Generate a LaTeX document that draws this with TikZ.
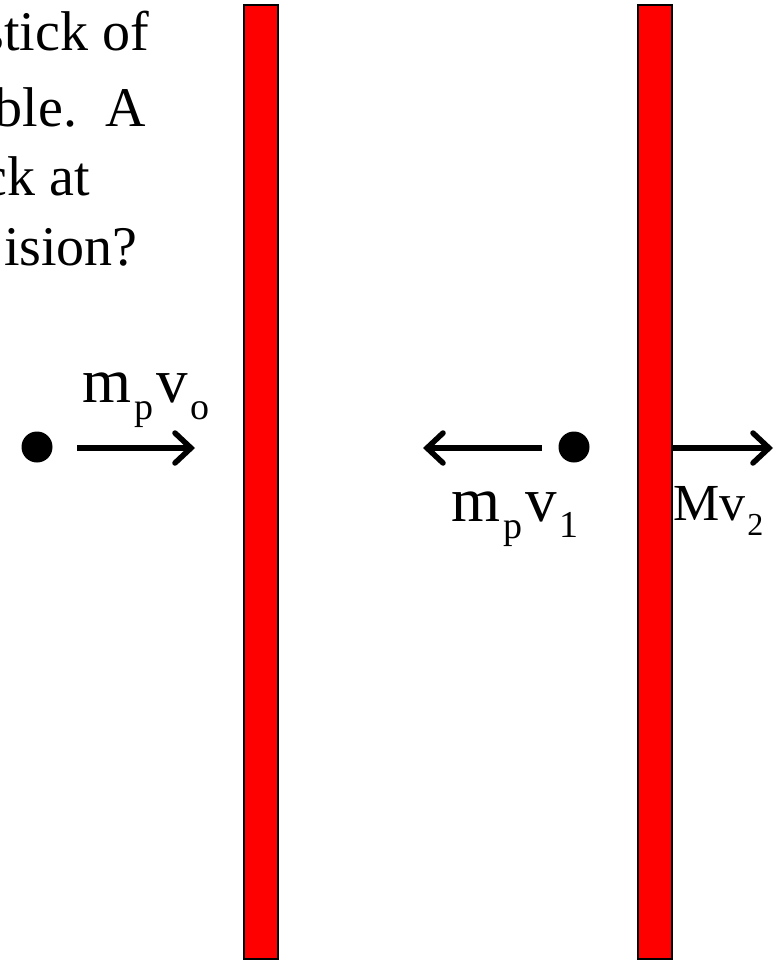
\documentclass[tikz,border=0pt]{standalone}
\usepackage{fontspec}
\setmainfont{Liberation Serif}
\usetikzlibrary{arrows.meta}
\tikzset{
  bar/.style={draw=black, fill=red, line width=2.5pt, minimum width=34pt, minimum height=954pt, inner sep=0pt},
  dot/.style={circle, fill=black, minimum size=31pt, inner sep=0pt},
  mom/.style={line width=5.5pt, -{Straight Barb[length=16pt, width=30pt, line width=5.5pt, line cap=round]}},
  txt/.style={anchor=base east, inner sep=0pt, font=\fontsize{56}{68}\selectfont},
  lab/.style={anchor=base west, inner sep=0pt, font=\fontsize{63}{70}\selectfont},
}
\newcommand{\lsub}[2]{\kern3pt\raisebox{-#1pt}{\fontsize{38}{38}\selectfont #2}\kern3pt}
\begin{document}
\begin{tikzpicture}[x=1pt,y=-1pt]
\useasboundingbox (0,0) rectangle (776,961);
\clip (0,0) rectangle (776,961);
% question text (cut off at the left)
\node[txt] (t1) at (149,50) {stick of};
\node[txt] (t2) at (146,126) {ble.\ \ A};
\node[txt] (t3) at (90,195) {ck at};
\node[txt] (t4) at (138,265) {ision?};
% bars
\node[bar] (b1) at (261,482) {};
\node[bar] (b2) at (655,482) {};
% before
\node[dot] (d1) at (37,447) {};
\coordinate (a1s) at (77,448);
\coordinate (a1e) at (195,448);
\draw[mom] (a1s) -- (a1e);
\node[lab] (l1) at (82,402) {m\lsub{17}{p}v\lsub{17}{o}};
% after
\node[dot] (d2) at (574,447) {};
\coordinate (a2s) at (542,448);
\coordinate (a2e) at (423,448);
\draw[mom] (a2s) -- (a2e);
\node[lab] (l2) at (451,521) {m\lsub{17}{p}v\lsub{16}{1}};
\coordinate (a3s) at (673,448);
\coordinate (a3e) at (773,448);
\draw[mom] (a3s) -- (a3e);
\node[lab, font=\fontsize{52}{60}\selectfont] (l3) at (673,520) {Mv\kern2pt\raisebox{-15pt}{\fontsize{32}{32}\selectfont 2}};
\end{tikzpicture}
\end{document}
